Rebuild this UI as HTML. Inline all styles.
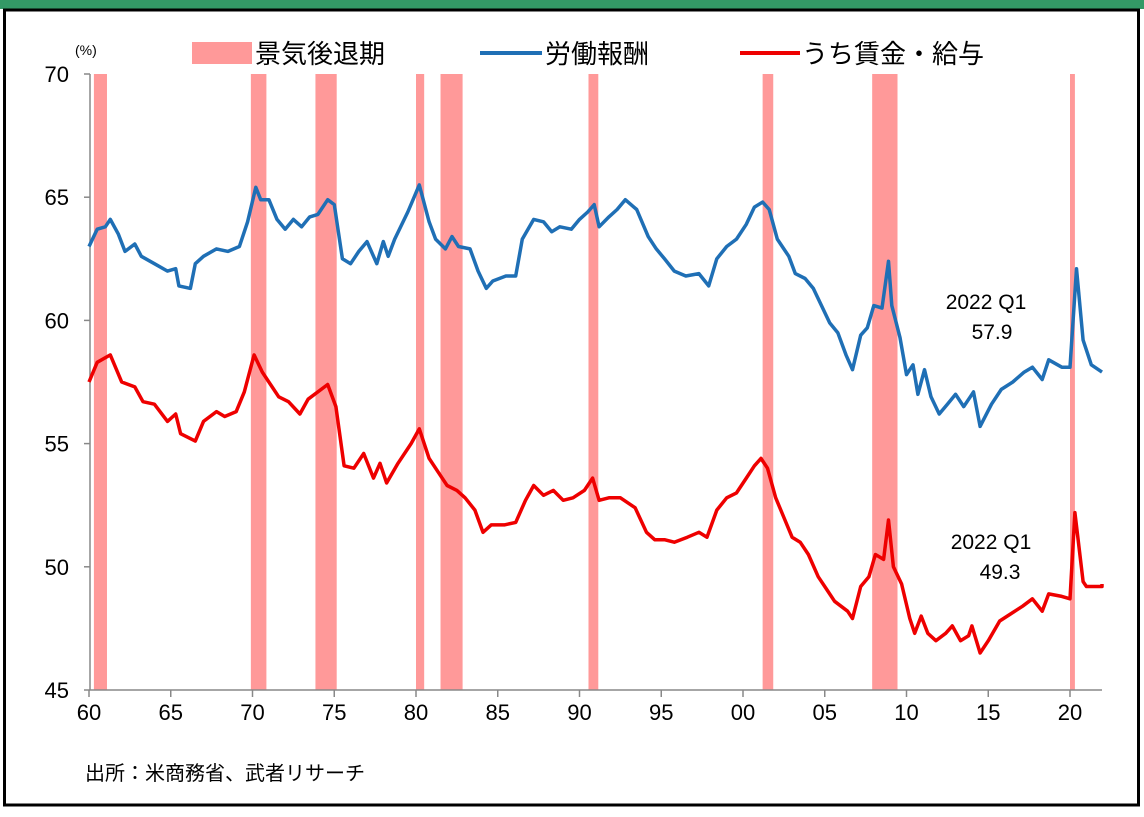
<!DOCTYPE html>
<html><head><meta charset="utf-8">
<style>
body{margin:0;background:#fff;}
svg text{font-family:"Liberation Sans","Noto Sans CJK JP",sans-serif;}
</style></head>
<body>
<svg id="chart" width="1144" height="812" xmlns="http://www.w3.org/2000/svg">
<rect x="0" y="0" width="1144" height="9" fill="#339966"/>
<rect x="4.5" y="10" width="1134" height="795" fill="#fff" stroke="#000" stroke-width="3"/>
<g id="bands"></g>
<g id="axes"></g>
<g id="lines"></g>
<text x="75" y="55" font-size="14">(%)</text>
<rect x="192" y="42" width="60" height="22" fill="#ff9999"/>
<text x="255" y="63" font-size="26">景気後退期</text>
<line x1="480" y1="53" x2="542" y2="53" stroke="#1f6fb5" stroke-width="4"/>
<text x="545" y="63" font-size="26">労働報酬</text>
<line x1="740" y1="53" x2="800" y2="53" stroke="#ee0000" stroke-width="4"/>
<text x="802" y="63" font-size="26">うち賃金・給与</text>
<text x="986" y="309" font-size="21" text-anchor="middle">2022 Q1</text>
<text x="992" y="339" font-size="21" text-anchor="middle">57.9</text>
<text x="991" y="549" font-size="21" text-anchor="middle">2022 Q1</text>
<text x="1000" y="579" font-size="21" text-anchor="middle">49.3</text>
<text x="85" y="780" font-size="20">出所：米商務省、武者リサーチ</text>
</svg>
<script>
const yTicks=[45,50,55,60,65,70];
const xTickYears=[1960,1965,1970,1975,1980,1985,1990,1995,2000,2005,2010,2015,2020];
const xTickLabels=["60","65","70","75","80","85","90","95","00","05","10","15","20"];
const recessionStart=[1960.3,1969.9,1973.85,1980.0,1981.5,1990.55,2001.2,2007.9,2020.0];
const recessionEnd=[1961.1,1970.85,1975.15,1980.5,1982.85,1991.15,2001.85,2009.45,2020.3];
const laborYears=[1960,1960.5,1961,1961.3,1961.8,1962.2,1962.8,1963.2,1964,1964.8,1965.3,1965.5,1966.2,1966.5,1967,1967.8,1968.5,1969.2,1969.7,1970.2,1970.5,1971,1971.5,1972,1972.5,1973,1973.5,1974,1974.6,1975,1975.5,1976,1976.5,1977,1977.6,1978,1978.3,1978.7,1979.5,1980.2,1980.8,1981.2,1981.8,1982.2,1982.6,1983.3,1983.8,1984.3,1984.7,1985.5,1986.1,1986.5,1987.2,1987.8,1988.3,1988.8,1989.5,1990,1990.5,1990.9,1991.2,1991.8,1992.3,1992.8,1993.5,1994.2,1994.7,1995.2,1995.8,1996.5,1997.3,1997.9,1998.4,1999,1999.6,2000.2,2000.7,2001.2,2001.6,2002.1,2002.8,2003.2,2003.8,2004.3,2004.8,2005.3,2005.8,2006.3,2006.7,2007.2,2007.6,2008,2008.5,2008.9,2009.1,2009.6,2010,2010.4,2010.7,2011.1,2011.5,2012,2012.5,2013,2013.5,2013.9,2014.1,2014.5,2015.2,2015.8,2016.5,2017.2,2017.7,2018.3,2018.7,2019.5,2020,2020.4,2020.8,2021.3,2022,2022.2];
const laborValues=[63.0,63.7,63.8,64.1,63.5,62.8,63.1,62.6,62.3,62.0,62.1,61.4,61.3,62.3,62.6,62.9,62.8,63.0,64.0,65.4,64.9,64.9,64.1,63.7,64.1,63.8,64.2,64.3,64.9,64.7,62.5,62.3,62.8,63.2,62.3,63.2,62.6,63.3,64.4,65.5,64.0,63.3,62.9,63.4,63.0,62.9,62.0,61.3,61.6,61.8,61.8,63.3,64.1,64.0,63.6,63.8,63.7,64.1,64.4,64.7,63.8,64.2,64.5,64.9,64.5,63.4,62.9,62.5,62.0,61.8,61.9,61.4,62.5,63.0,63.3,63.9,64.6,64.8,64.5,63.3,62.6,61.9,61.7,61.3,60.6,59.9,59.5,58.6,58.0,59.4,59.7,60.6,60.5,62.4,60.6,59.3,57.8,58.2,57.0,58.0,56.9,56.2,56.6,57.0,56.5,56.9,57.1,55.7,56.6,57.2,57.5,57.9,58.1,57.6,58.4,58.1,58.1,62.1,59.2,58.2,57.9,57.9];
const wageYears=[1960,1960.5,1961.3,1962,1962.8,1963.3,1964,1964.8,1965.3,1965.6,1966.5,1967,1967.8,1968.3,1969,1969.5,1970.1,1970.6,1971.2,1971.6,1972.2,1972.9,1973.4,1974.2,1974.6,1975.1,1975.6,1976.2,1976.8,1977.4,1977.8,1978.2,1978.9,1979.7,1980.2,1980.8,1981.4,1981.9,1982.5,1983,1983.6,1984.1,1984.6,1985.4,1986.1,1986.7,1987.2,1987.8,1988.4,1989,1989.6,1990.3,1990.8,1991.2,1991.8,1992.5,1993.4,1994.1,1994.6,1995.2,1995.8,1996.6,1997.3,1997.8,1998.4,1999,1999.6,2000.2,2000.7,2001.1,2001.5,2002,2002.5,2003,2003.5,2004,2004.6,2005.2,2005.6,2006.4,2006.7,2007.2,2007.7,2008.1,2008.6,2008.9,2009.2,2009.7,2010.2,2010.5,2010.9,2011.3,2011.8,2012.4,2012.8,2013.3,2013.8,2014,2014.5,2015,2015.7,2016.4,2017.1,2017.7,2018.3,2018.7,2019.5,2020,2020.3,2020.8,2021,2022,2022.2];
const wageValues=[57.5,58.3,58.6,57.5,57.3,56.7,56.6,55.9,56.2,55.4,55.1,55.9,56.3,56.1,56.3,57.1,58.6,57.9,57.3,56.9,56.7,56.2,56.8,57.2,57.4,56.5,54.1,54.0,54.6,53.6,54.2,53.4,54.2,55.0,55.6,54.4,53.8,53.3,53.1,52.8,52.3,51.4,51.7,51.7,51.8,52.7,53.3,52.9,53.1,52.7,52.8,53.1,53.6,52.7,52.8,52.8,52.4,51.4,51.1,51.1,51.0,51.2,51.4,51.2,52.3,52.8,53.0,53.6,54.1,54.4,54.0,52.8,52.0,51.2,51.0,50.5,49.6,49.0,48.6,48.2,47.9,49.2,49.6,50.5,50.3,51.9,50.0,49.3,47.9,47.3,48.0,47.3,47.0,47.3,47.6,47.0,47.2,47.6,46.5,47.0,47.8,48.1,48.4,48.7,48.2,48.9,48.8,48.7,52.2,49.4,49.2,49.2,49.3];

const X0=89,PX_PER_YEAR=16.35,Y0=74,PX_PER_UNIT=24.64,RIGHT=1102;
function xs(yr){return X0+(yr-1960)*PX_PER_YEAR;}
function ys(v){return Y0+(70-v)*PX_PER_UNIT;}
const NS="http://www.w3.org/2000/svg";
function mk(tag,attrs,parent){const e=document.createElementNS(NS,tag);for(const k in attrs)e.setAttribute(k,attrs[k]);parent.appendChild(e);return e;}
const bands=document.getElementById('bands'),axes=document.getElementById('axes'),lines=document.getElementById('lines');
for(let i=0;i<recessionStart.length;i++){
  const r=mk('rect',{x:xs(recessionStart[i]),y:ys(70),width:Math.max(3,xs(recessionEnd[i])-xs(recessionStart[i])),height:ys(45)-ys(70),fill:'#ff9999'},bands);
  
  
}
const ya=mk('line',{x1:X0+1,y1:ys(70),x2:X0+1,y2:ys(45),stroke:'#888','stroke-width':1.5},axes);


yTicks.forEach(t=>{
  mk('line',{x1:X0-5,y1:ys(t),x2:X0+1,y2:ys(t),stroke:'#888','stroke-width':1.5},axes);
  const tx=mk('text',{x:X0-20,y:ys(t)+8,'font-size':22,'text-anchor':'end'},axes);
  tx.textContent=t;
  
  
});
const xa=mk('line',{x1:X0,y1:ys(45),x2:RIGHT,y2:ys(45),stroke:'#888','stroke-width':1.5},axes);


xTickYears.forEach((yr,i)=>{
  mk('line',{x1:xs(yr),y1:ys(45),x2:xs(yr),y2:ys(45)+7,stroke:'#888','stroke-width':1.5},axes);
  const tx=mk('text',{x:xs(yr),y:ys(45)+30,'font-size':22,'text-anchor':'middle'},axes);
  tx.textContent=xTickLabels[i];
  
  
});
function path(yrs,vals){return yrs.map((y,i)=>(i?'L':'M')+Math.min(xs(y),RIGHT).toFixed(1)+' '+ys(vals[i]).toFixed(1)).join(' ');}
const lb=mk('path',{d:path(laborYears,laborValues),fill:'none',stroke:'#1f6fb5','stroke-width':3.5,'stroke-linejoin':'round'},lines);


const wg=mk('path',{d:path(wageYears,wageValues),fill:'none',stroke:'#ee0000','stroke-width':3.5,'stroke-linejoin':'round'},lines);


</script>
</body></html>
